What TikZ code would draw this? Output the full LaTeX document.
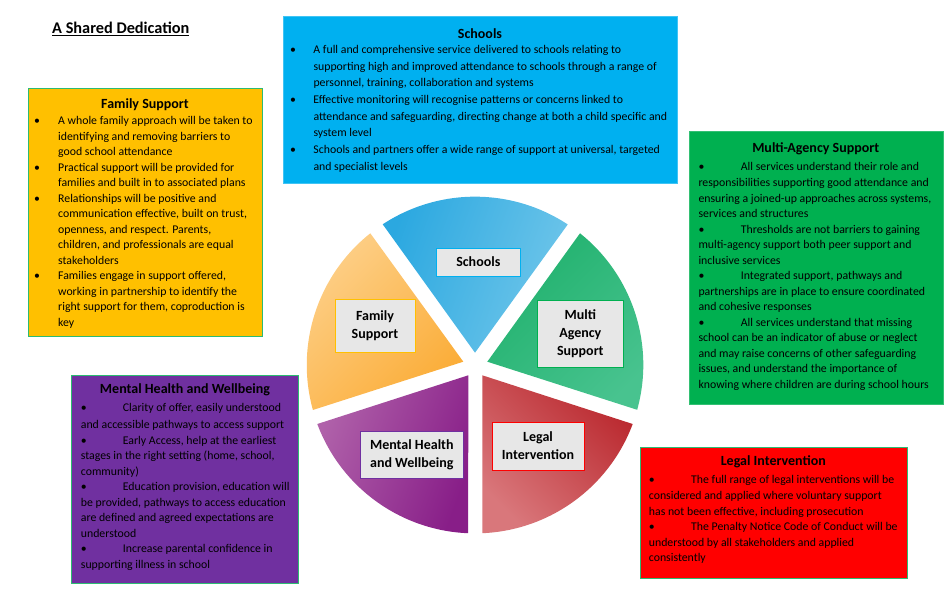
\documentclass[tikz,border=0pt]{standalone}
\usepackage{fontspec}
\setmainfont{Carlito}

\definecolor{amber}{HTML}{FFC000}
\definecolor{skyblue}{HTML}{00B0F0}
\definecolor{leaf}{HTML}{00B050}
\definecolor{plum}{HTML}{7030A0}
\definecolor{edgegreen}{HTML}{2DBB72}
\definecolor{labelgrey}{HTML}{E7E7E7}
\definecolor{schoolsA}{HTML}{2BA8E0}
\definecolor{schoolsB}{HTML}{70C6EA}
\definecolor{familyA}{HTML}{FDD08A}
\definecolor{familyB}{HTML}{FBAD38}
\definecolor{agencyA}{HTML}{20B16D}
\definecolor{agencyB}{HTML}{48C38F}
\definecolor{legalA}{HTML}{D9777B}
\definecolor{legalB}{HTML}{BA282E}
\definecolor{mentalA}{HTML}{B062AA}
\definecolor{mentalB}{HTML}{881E88}

\newcommand{\tick}[1]{\makebox[#1pt][l]{\strut\textbullet}}
\newcommand{\pad}[1]{\hspace*{#1pt}}

\tikzset{
    panel/.style={line width=1pt},
    heading/.style={font=\fontsize{14}{16}\selectfont\bfseries, inner sep=0pt},
    body/.style={font=\fontsize{11.8}{15.5}\selectfont, align=left, anchor=north west, inner sep=0pt},
    tag/.style={fill=labelgrey, draw=#1, line width=0.9pt, font=\fontsize{14}{18}\selectfont\bfseries, align=center, inner sep=0pt},
    slice/.style n args={3}{left color=#1, right color=#2, shading angle=#3}
}

\begin{document}
\begin{tikzpicture}[x=1pt, y=-1pt]
    \useasboundingbox (0,0) rectangle (947,599);

    \node[font=\fontsize{16.3}{18}\selectfont\bfseries, anchor=west, inner sep=0pt] (dedication) at (52,28.8) {\underline{A Shared Dedication}};

    \filldraw[panel, fill=amber, draw=edgegreen] (28,89) rectangle (262,336);
    \filldraw[panel, fill=skyblue, draw=skyblue!75!white] (283,17) rectangle (677,183);
    \filldraw[panel, fill=leaf, draw=leaf!80!white] (689,132) rectangle (943,404);
    \filldraw[panel, fill=red, draw=edgegreen] (640,447) rectangle (907,578);
    \filldraw[panel, fill=plum, draw=edgegreen] (71,375) rectangle (298,583);

    \node[heading] (familytitle) at (145,105) {Family Support};
    \node[body] (familytext) at (34,113.6) {\tick{24}A whole family approach will be taken to\\
        \pad{24}identifying and removing barriers to\\
        \pad{24}good school attendance\\
        \tick{24}Practical support will be provided for\\
        \pad{24}families and built in to associated plans\\
        \tick{24}Relationships will be positive and\\
        \pad{24}communication effective, built on trust,\\
        \pad{24}openness, and respect. Parents,\\
        \pad{24}children, and professionals are equal\\
        \pad{24}stakeholders\\
        \tick{24}Families engage in support offered,\\
        \pad{24}working in partnership to identify the\\
        \pad{24}right support for them, coproduction is\\
        \pad{24}key};

    \node[heading] (schoolstitle) at (480,33.4) {Schools};
    \node[body, font=\fontsize{11.8}{16.67}\selectfont] (schoolstext) at (290,41.7) {\tick{23.3}A full and comprehensive service delivered to schools relating to\\
        \pad{23.3}supporting high and improved attendance to schools through a range of\\
        \pad{23.3}personnel, training, collaboration and systems\\
        \tick{23.3}Effective monitoring will recognise patterns or concerns linked to\\
        \pad{23.3}attendance and safeguarding, directing change at both a child specific and\\
        \pad{23.3}system level\\
        \tick{23.3}Schools and partners offer a wide range of support at universal, targeted\\
        \pad{23.3}and specialist levels};

    \node[heading] (agencytitle) at (815.7,148.4) {Multi-Agency Support};
    \node[body] (agencytext) at (698.3,159.2) {\tick{42.4}All services understand their role and\\[1.2pt]
        responsibilities supporting good attendance and\\
        ensuring a joined-up approaches across systems,\\
        services and structures\\
        \tick{42.4}Thresholds are not barriers to gaining\\
        multi-agency support both peer support and\\
        inclusive services\\
        \tick{42.4}Integrated support, pathways and\\
        partnerships are in place to ensure coordinated\\
        and cohesive responses\\
        \tick{42.4}All services understand that missing\\
        school can be an indicator of abuse or neglect\\
        and may raise concerns of other safeguarding\\
        issues, and understand the importance of\\
        knowing where children are during school hours};

    \node[heading] (legaltitle) at (773.3,461.4) {Legal Intervention};
    \node[body] (legaltext) at (648.7,472.2) {\tick{42.3}The full range of legal interventions will be\\[1.2pt]
        considered and applied where voluntary support\\
        has not been effective, including prosecution\\
        \tick{42.3}The Penalty Notice Code of Conduct will be\\
        understood by all stakeholders and applied\\
        consistently};

    \node[heading] (mentaltitle) at (185,390) {Mental Health and Wellbeing};
    \node[body] (mentaltext) at (80.7,400.9) {\tick{42}Clarity of offer, easily understood\\[1.2pt]
        and accessible pathways to access support\\
        \tick{42}Early Access, help at the earliest\\
        stages in the right setting (home, school,\\
        community)\\
        \tick{42}Education provision, education will\\
        be provided, pathways to access education\\
        are defined and agreed expectations are\\
        understood\\
        \tick{42}Increase parental confidence in\\
        supporting illness in school};

    \shade[slice={schoolsA}{schoolsB}{70}] (475,352.7) -- (382.7,224.3) arc[start angle=236.7, end angle=303.4, radius=168.3] -- cycle;
    \shade[slice={familyA}{familyB}{45}] (463.3,361.7) -- (370.3,233.3) arc[start angle=231.5, end angle=164.5, radius=168.3] -- cycle;
    \shade[slice={agencyA}{agencyB}{45}] (487.3,361.7) -- (580,233.3) arc[start angle=308.6, end angle=375.5, radius=168.3] -- cycle;
    \shade[slice={legalA}{legalB}{135}] (482.3,375.3) -- (632.7,424) arc[start angle=20.5, end angle=87.5, radius=168.3] -- cycle;
    \shade[slice={mentalA}{mentalB}{70}] (468.3,375.3) -- (317.3,424) arc[start angle=159.5, end angle=92.3, radius=168.3] -- cycle;

    \node[tag=skyblue, minimum width=83.3pt, minimum height=28pt] (schoolstag) at (478.3,262) {Schools};
    \node[tag=amber, minimum width=80pt, minimum height=53pt] (familytag) at (375,325.5) {Family\\Support};
    \node[tag=leaf, minimum width=85.3pt, minimum height=66.3pt] (agencytag) at (580.3,333.8) {Multi\\Agency\\Support};
    \node[tag=red, minimum width=92pt, minimum height=48pt] (legaltag) at (538,446) {Legal\\Intervention};
    \node[tag=plum, minimum width=102.3pt, minimum height=47.7pt] (mentaltag) at (411.8,454.8) {Mental Health\\and Wellbeing};
\end{tikzpicture}
\end{document}
